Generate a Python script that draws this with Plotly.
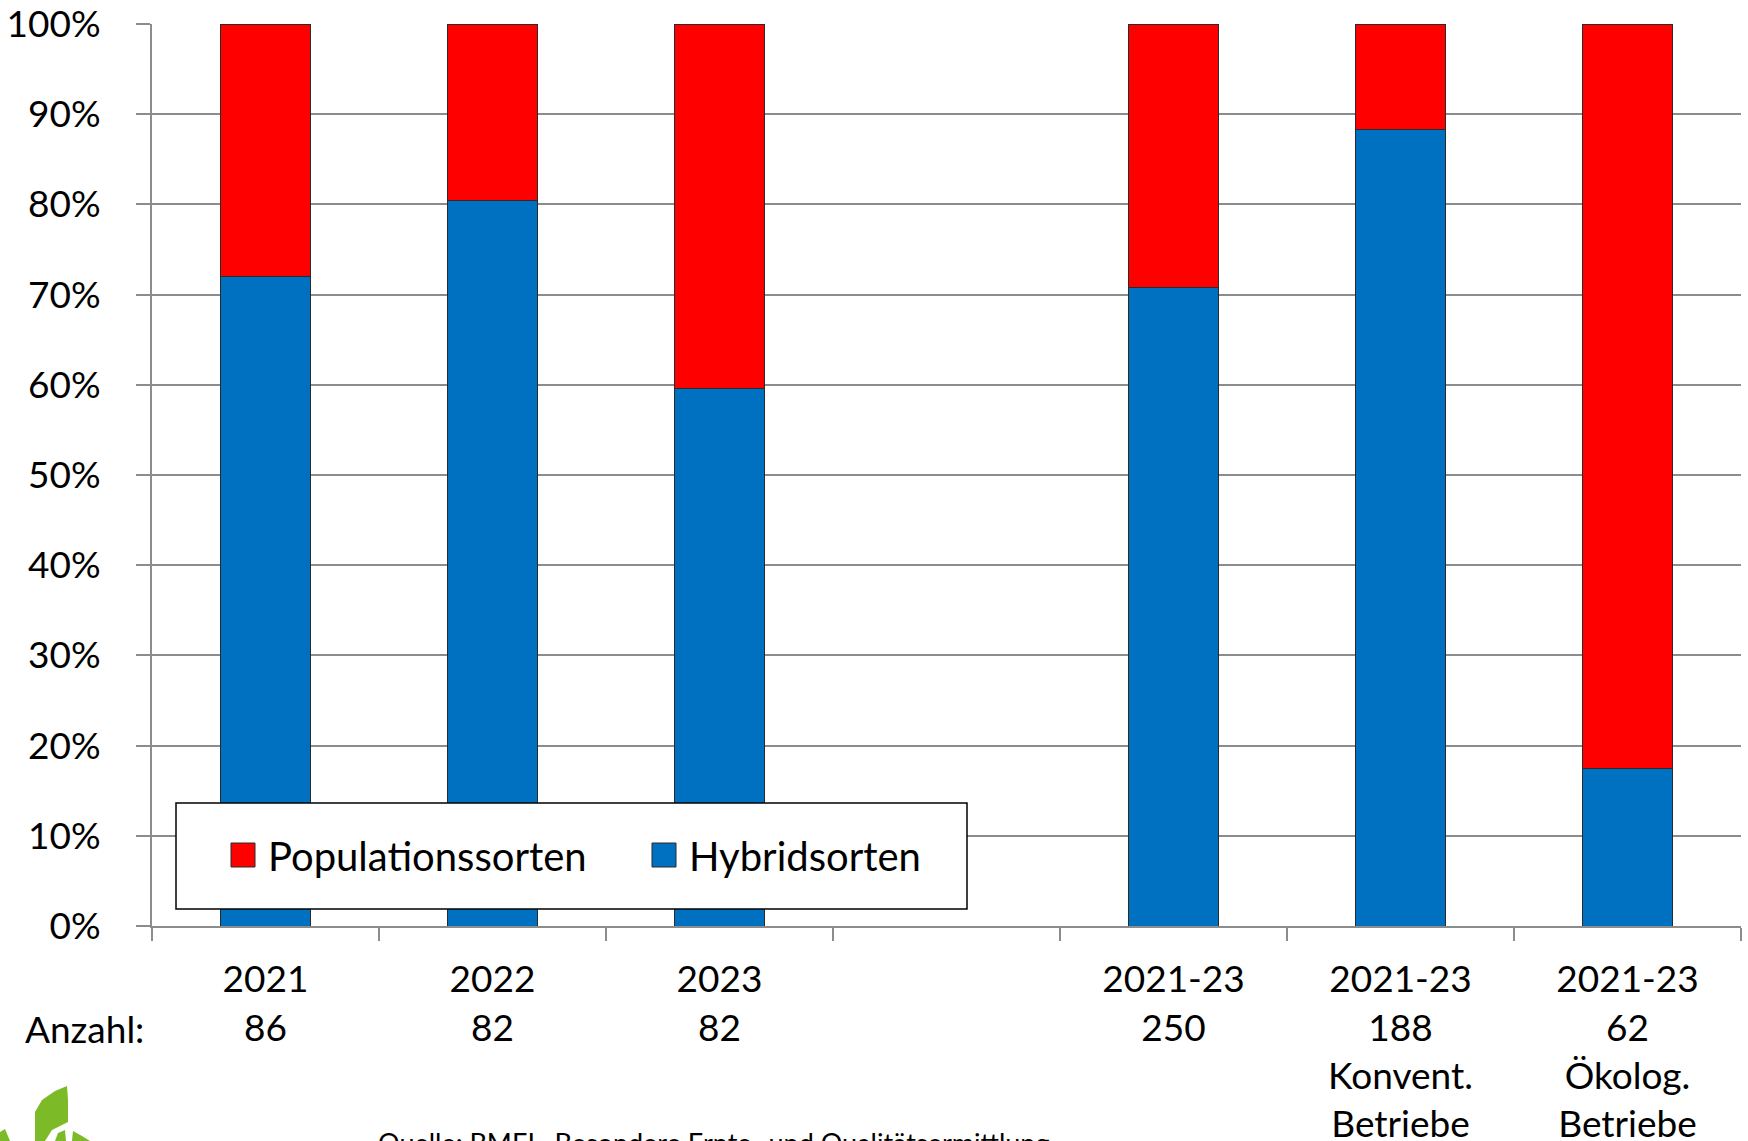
import plotly.graph_objects as go

# ---- data ----
categories = ["2021", "2022", "2023", "gap", "2021-23 gesamt", "2021-23 konv", "2021-23 oeko"]
label_year = ["2021", "2022", "2023", "", "2021-23", "2021-23", "2021-23"]
label_count = ["86", "82", "82", "", "250", "188", "62"]
label_extra = ["", "", "", "", "", "Konvent.<br>Betriebe", "Ökolog.<br>Betriebe"]
hybrid = [72.0, 80.4, 59.6, None, 70.8, 88.3, 17.5]
population = [28.0, 19.6, 40.4, None, 29.2, 11.7, 82.5]
y_ticks = [0, 10, 20, 30, 40, 50, 60, 70, 80, 90, 100]

series_names = ["Populationssorten", "Hybridsorten"]
series_colors = {"Populationssorten": "#FF0000", "Hybridsorten": "#0070C0"}

W, H = 1748, 1141
L, R, T, B = 152, 7, 24, 215
PW, PH = W - L - R, H - T - B
FONT = "Lato, 'Open Sans', sans-serif"


def px(x):
    return (x - L) / PW


def py(y):
    return (H - B - y) / PH


ticktext = []
for yv, cv, ev in zip(label_year, label_count, label_extra):
    t = yv + "<br>" + cv
    if ev:
        t += "<br>" + ev
    ticktext.append(t)

fig = go.Figure()
fig.add_trace(go.Bar(
    x=categories, y=[v / 100 if v is not None else None for v in hybrid],
    name="Hybridsorten", showlegend=False,
    marker=dict(color=series_colors["Hybridsorten"], line=dict(color="#2a2a2a", width=1)),
))
fig.add_trace(go.Bar(
    x=categories, y=[v / 100 if v is not None else None for v in population],
    name="Populationssorten", showlegend=False,
    marker=dict(color=series_colors["Populationssorten"], line=dict(color="#2a2a2a", width=1)),
))

# legend box
shapes = [
    dict(type="rect", xref="paper", yref="paper", x0=px(176), x1=px(967), y0=py(909), y1=py(803),
         line=dict(color="black", width=1.5), fillcolor="white", layer="above"),
]
annotations = []
legend_sq_x = [231, 652]
for name, sx in zip(series_names, legend_sq_x):
    shapes.append(dict(type="rect", xref="paper", yref="paper", x0=px(sx), x1=px(sx + 24),
                       y0=py(867), y1=py(843), fillcolor=series_colors[name],
                       line=dict(color="#2a2a2a", width=1), layer="above"))
    annotations.append(dict(text=name, xref="paper", yref="paper", x=px(sx + 35), y=py(856),
                            xanchor="left", yanchor="middle", showarrow=False, font=dict(size=40)))


def path(points):
    s = "M " + " L ".join(f"{px(a):.5f},{py(b):.5f}" for a, b in points) + " Z"
    return dict(type="path", xref="paper", yref="paper", path=s,
                fillcolor="#7DBA28", line=dict(width=0), layer="above")


# logo leaves (decorative)
shapes.append(path([(35, 1141), (35, 1112), (42, 1100), (55, 1091), (67, 1086), (68, 1100), (68, 1122), (52, 1130), (45, 1141)]))
shapes.append(path([(0, 1141), (0, 1132), (5, 1129), (10, 1141)]))
shapes.append(path([(55, 1141), (58, 1133), (65, 1130), (66, 1141)]))
shapes.append(path([(72, 1141), (73, 1131), (82, 1136), (90, 1141)]))

annotations += [
    dict(text="Anzahl:", xref="paper", yref="paper", x=px(146), y=py(1028),
         xanchor="right", yanchor="middle", showarrow=False, font=dict(size=37)),
    dict(text="Quelle: BMEL, Besondere Ernte- und Qualitätsermittlung", xref="paper", yref="paper",
         x=px(376), y=py(1124), xanchor="left", yanchor="top", showarrow=False, font=dict(size=27)),
]

fig.update_layout(
    width=W, height=H,
    margin=dict(l=L, r=R, t=T, b=B, pad=0, autoexpand=False),
    paper_bgcolor="white", plot_bgcolor="white",
    barmode="stack", bargap=0.6,
    font=dict(family=FONT, size=37, color="black"),
    showlegend=False,
    shapes=shapes,
    annotations=annotations,
)

fig.update_yaxes(range=[0, 1], tickmode="array", tickvals=[v / 100 for v in y_ticks],
                 ticktext=[f"{v}%" for v in y_ticks], showgrid=True, gridcolor="#8c8c8c", gridwidth=2,
                 showline=True, linecolor="#8c8c8c", linewidth=2, ticks="outside", ticklen=14,
                 tickcolor="#8c8c8c", tickwidth=2, ticklabelstandoff=28, zeroline=False,
                 automargin=False, ticklabeloverflow="allow")
fig.update_xaxes(type="category", categoryorder="array", categoryarray=categories,
                 tickvals=categories, ticktext=ticktext, range=[-0.5, 6.5],
                 tickson="boundaries", ticks="outside", ticklen=13, tickcolor="#8c8c8c", tickwidth=2,
                 showline=True, linecolor="#8c8c8c", linewidth=2, showgrid=False, ticklabelstandoff=20,
                 automargin=False)

fig.write_html("out.html", config={"displayModeBar": False},
               post_script="document.body.style.margin='0';")
